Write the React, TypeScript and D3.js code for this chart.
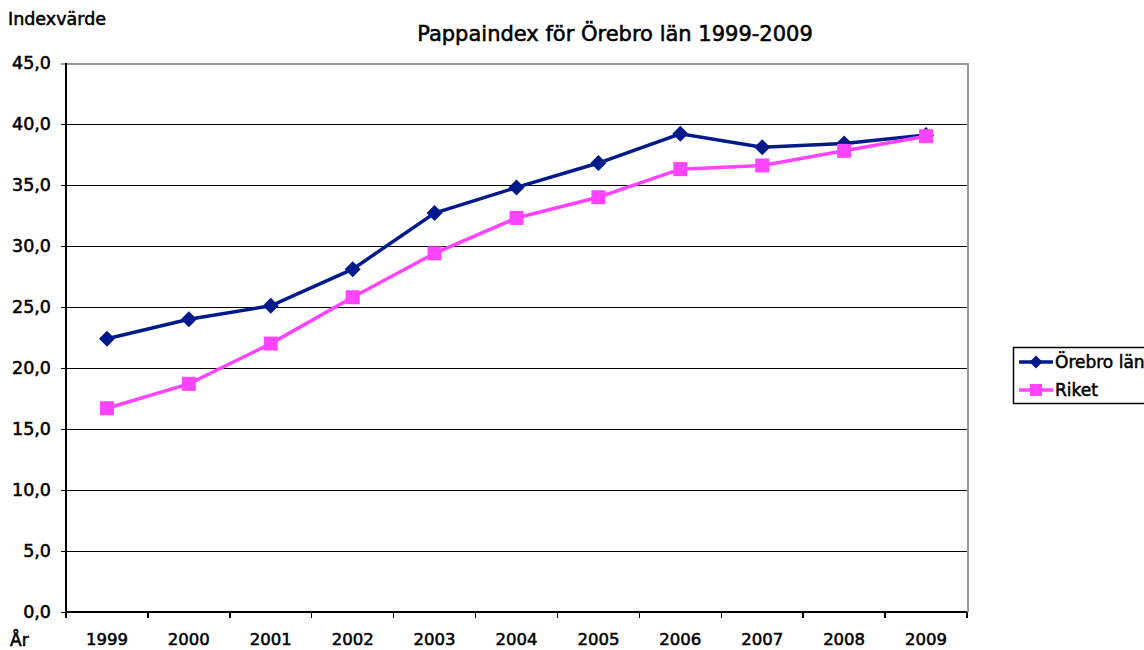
import * as d3 from "d3";

const years = ["1999", "2000", "2001", "2002", "2003", "2004", "2005", "2006", "2007", "2008", "2009"];
const orebro = [22.4, 24.0, 25.1, 28.1, 32.7, 34.8, 36.8, 39.2, 38.1, 38.4, 39.1];
const riket = [16.7, 18.7, 22.0, 25.8, 29.4, 32.3, 34.0, 36.3, 36.6, 37.8, 39.0];
const yTicks = [0, 5, 10, 15, 20, 25, 30, 35, 40, 45];

const NAVY = "#001a8c";
const PINK = "#ff44ff";
const FONT = "'DejaVu Sans', Arial, sans-serif";

const W = 1144;
const H = 650;
const plot = { left: 66, right: 967, top: 63, bottom: 612 };

// slight outline so the regular face reads like the medium weight of the original
const txt = { fill: "#000", stroke: "#000", strokeWidth: 0.55 };

const App = () => {
  const x = d3.scaleBand().domain(years).range([plot.left, plot.right]);
  const y = d3.scaleLinear().domain([0, 45]).range([plot.bottom, plot.top]);
  const cx = (d: string) => (x(d) ?? 0) + x.bandwidth() / 2;
  const gy = (v: number) => Math.round(y(v)) + 0.5;
  const line = d3
    .line<number>()
    .x((_, i) => cx(years[i]))
    .y((v) => y(v));
  const fmt = (v: number) => v.toFixed(1).replace(".", ",");
  const diamond = (r: number) => `M0,${-r}L${r},0L0,${r}L${-r},0Z`;
  const square = (s: number) => `M${-s / 2},${-s / 2}h${s}v${s}h${-s}Z`;

  return (
    <svg
      width={W}
      height={H}
      style={{ position: "absolute", left: 0, top: 0, background: "#fff" }}
      fontFamily={FONT}
    >
      <text x={8} y={25} fontSize={17.5} {...txt}>
        Indexvärde
      </text>
      <text x={615} y={41} fontSize={21} textAnchor="middle" {...txt}>
        Pappaindex för Örebro län 1999-2009
      </text>

      {/* grid */}
      <g shapeRendering="crispEdges">
        {yTicks.map((t) => (
          <line
            key={t}
            x1={plot.left - 5}
            x2={plot.right}
            y1={gy(t)}
            y2={gy(t)}
            stroke={t === 45 ? "#999" : "#000"}
            strokeWidth={t === 45 ? 2 : 1}
          />
        ))}
        <line x1={plot.right + 0.5} x2={plot.right + 0.5} y1={plot.top} y2={plot.bottom} stroke="#999" strokeWidth={2} />
        <line x1={plot.left} x2={plot.left} y1={plot.top} y2={plot.bottom} stroke="#000" strokeWidth={2} />
        <line x1={plot.left} x2={plot.right} y1={plot.bottom} y2={plot.bottom} stroke="#000" strokeWidth={2} />
        {years.map((yr) => (
          <line
            key={"t" + yr}
            x1={x(yr)}
            x2={x(yr)}
            y1={plot.bottom}
            y2={plot.bottom + 6}
            stroke="#000"
            strokeWidth={1.5}
          />
        ))}
        <line x1={plot.right} x2={plot.right} y1={plot.bottom} y2={plot.bottom + 6} stroke="#000" strokeWidth={1.5} />
      </g>

      {yTicks.map((t) => (
        <text key={t} x={plot.left - 15} y={y(t) + 6} fontSize={17.5} textAnchor="end" {...txt}>
          {fmt(t)}
        </text>
      ))}

      {years.map((yr) => (
        <text key={yr} x={cx(yr)} y={645} fontSize={16.5} textAnchor="middle" {...txt}>
          {yr}
        </text>
      ))}
      <text x={10} y={646} fontSize={17} {...txt}>
        År
      </text>

      {/* series */}
      <path d={line(orebro) ?? ""} fill="none" stroke={NAVY} strokeWidth={3.5} />
      {orebro.map((v, i) => (
        <path key={"o" + i} d={diamond(8)} transform={`translate(${cx(years[i])},${y(v)})`} fill={NAVY} />
      ))}
      <path d={line(riket) ?? ""} fill="none" stroke={PINK} strokeWidth={3.5} />
      {riket.map((v, i) => (
        <path key={"r" + i} d={square(14)} transform={`translate(${cx(years[i])},${y(v)})`} fill={PINK} />
      ))}

      {/* legend */}
      <rect x={1013.5} y={347.5} width={140} height={56} fill="#fff" stroke="#000" strokeWidth={1.5} />
      <line x1={1019} x2={1053} y1={362} y2={362} stroke={NAVY} strokeWidth={3.5} />
      <path d={diamond(6.5)} transform="translate(1036,362)" fill={NAVY} />
      <text x={1055} y={368} fontSize={17} {...txt}>
        Örebro län
      </text>
      <line x1={1019} x2={1053} y1={390} y2={390} stroke={PINK} strokeWidth={3.5} />
      <path d={square(12)} transform="translate(1036,390)" fill={PINK} />
      <text x={1055} y={396} fontSize={17} {...txt}>
        Riket
      </text>
    </svg>
  );
};

export default App;
